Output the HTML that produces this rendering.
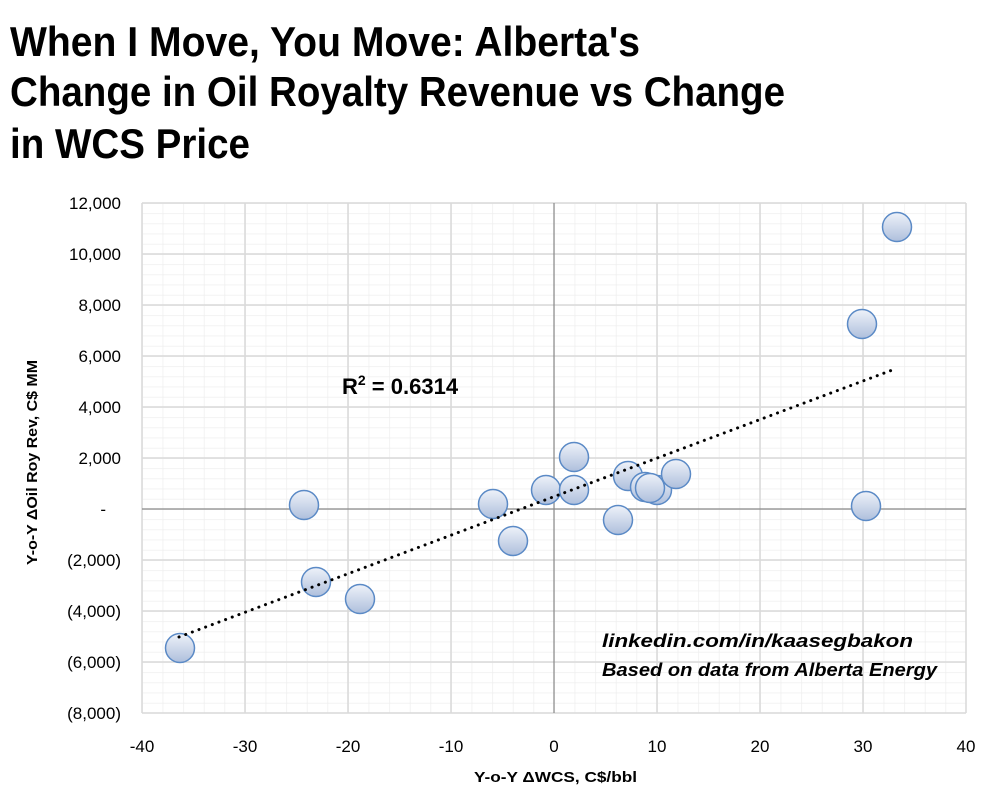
<!DOCTYPE html>
<html><head><meta charset="utf-8"><style>
body{margin:0;background:#fff;width:996px;height:805px;overflow:hidden;font-family:"Liberation Sans",sans-serif}
</style></head><body>
<svg width="996" height="805" xmlns="http://www.w3.org/2000/svg">
<defs>
<linearGradient id="g" x1="0" y1="0" x2="0" y2="1">
<stop offset="0" stop-color="#eef2f9"/><stop offset="1" stop-color="#aebfdc"/>
</linearGradient>
<pattern id="minor" x="142" y="203" width="20.6" height="10.2" patternUnits="userSpaceOnUse">
<path d="M0 0V10.2M0 0H20.6" stroke="#eeeeee" stroke-width="1.5" fill="none"/>
</pattern>
</defs>
<text x="10" y="56" font-size="42" font-weight="bold" fill="#000" textLength="630" lengthAdjust="spacingAndGlyphs">When I Move, You Move: Alberta's</text>
<text x="10" y="106" font-size="42" font-weight="bold" fill="#000" textLength="775" lengthAdjust="spacingAndGlyphs">Change in Oil Royalty Revenue vs Change</text>
<text x="10" y="158" font-size="42" font-weight="bold" fill="#000" textLength="240" lengthAdjust="spacingAndGlyphs">in WCS Price</text>
<rect x="142" y="203" width="824" height="510" fill="url(#minor)"/>
<g stroke="#d9d9d9" stroke-width="1.5">
<line x1="142" y1="203" x2="966" y2="203"/><line x1="142" y1="254" x2="966" y2="254"/><line x1="142" y1="305" x2="966" y2="305"/><line x1="142" y1="356" x2="966" y2="356"/><line x1="142" y1="407" x2="966" y2="407"/><line x1="142" y1="458" x2="966" y2="458"/><line x1="142" y1="560" x2="966" y2="560"/><line x1="142" y1="611" x2="966" y2="611"/><line x1="142" y1="662" x2="966" y2="662"/><line x1="142" y1="713" x2="966" y2="713"/>
<line x1="142" y1="203" x2="142" y2="713"/><line x1="245" y1="203" x2="245" y2="713"/><line x1="348" y1="203" x2="348" y2="713"/><line x1="451" y1="203" x2="451" y2="713"/><line x1="657" y1="203" x2="657" y2="713"/><line x1="760" y1="203" x2="760" y2="713"/><line x1="863" y1="203" x2="863" y2="713"/><line x1="966" y1="203" x2="966" y2="713"/>
</g>
<line x1="142" y1="509" x2="966" y2="509" stroke="#888" stroke-width="1.2"/>
<line x1="554" y1="203" x2="554" y2="713" stroke="#888" stroke-width="1.2"/>
<g font-size="17" fill="#000" text-anchor="end">
<text x="121" y="209">12,000</text><text x="121" y="260">10,000</text><text x="121" y="311">8,000</text><text x="121" y="362">6,000</text><text x="121" y="413">4,000</text><text x="121" y="464">2,000</text><text x="106" y="515">-</text><text x="121" y="566">(2,000)</text><text x="121" y="617">(4,000)</text><text x="121" y="668">(6,000)</text><text x="121" y="719">(8,000)</text>
</g>
<g font-size="17" fill="#000" text-anchor="middle">
<text x="142" y="752">-40</text><text x="245" y="752">-30</text><text x="348" y="752">-20</text><text x="451" y="752">-10</text><text x="554" y="752">0</text><text x="657" y="752">10</text><text x="760" y="752">20</text><text x="863" y="752">30</text><text x="966" y="752">40</text>
</g>
<text x="474" y="782" font-size="15" font-weight="bold" textLength="163" lengthAdjust="spacingAndGlyphs">Y-o-Y ΔWCS, C$/bbl</text>
<text transform="translate(37,565) rotate(-90)" font-size="15" font-weight="bold" textLength="205" lengthAdjust="spacingAndGlyphs">Y-o-Y ΔOil Roy Rev, C$ MM</text>
<g fill="url(#g)" stroke="#5b8ac6" stroke-width="1.5">
<circle cx="180" cy="648" r="14.5"/><circle cx="304" cy="505" r="14.5"/><circle cx="316" cy="582" r="14.5"/><circle cx="360" cy="599" r="14.5"/><circle cx="493" cy="504" r="14.5"/><circle cx="513" cy="541" r="14.5"/><circle cx="546" cy="490" r="14.5"/><circle cx="574" cy="457" r="14.5"/><circle cx="574" cy="490" r="14.5"/><circle cx="618" cy="520" r="14.5"/><circle cx="628" cy="476" r="14.5"/><circle cx="657" cy="490" r="14.5"/><circle cx="645" cy="487" r="14.5"/><circle cx="650" cy="488" r="14.5"/><circle cx="676" cy="474" r="14.5"/><circle cx="862" cy="324" r="14.5"/><circle cx="866" cy="506" r="14.5"/><circle cx="897" cy="227" r="14.5"/>
</g>
<line x1="179" y1="637" x2="895" y2="369" stroke="#000" stroke-width="3" stroke-dasharray="0.1 7" stroke-linecap="round"/>
<text x="342" y="394" font-size="22" font-weight="bold">R<tspan font-size="14" dy="-9">2</tspan><tspan dy="9"> = 0.6314</tspan></text>
<text x="602" y="647" font-size="18" font-weight="bold" font-style="italic" textLength="311" lengthAdjust="spacingAndGlyphs">linkedin.com/in/kaasegbakon</text>
<text x="602" y="676" font-size="18" font-weight="bold" font-style="italic" textLength="335" lengthAdjust="spacingAndGlyphs">Based on data from Alberta Energy</text>
</svg>
</body></html>
